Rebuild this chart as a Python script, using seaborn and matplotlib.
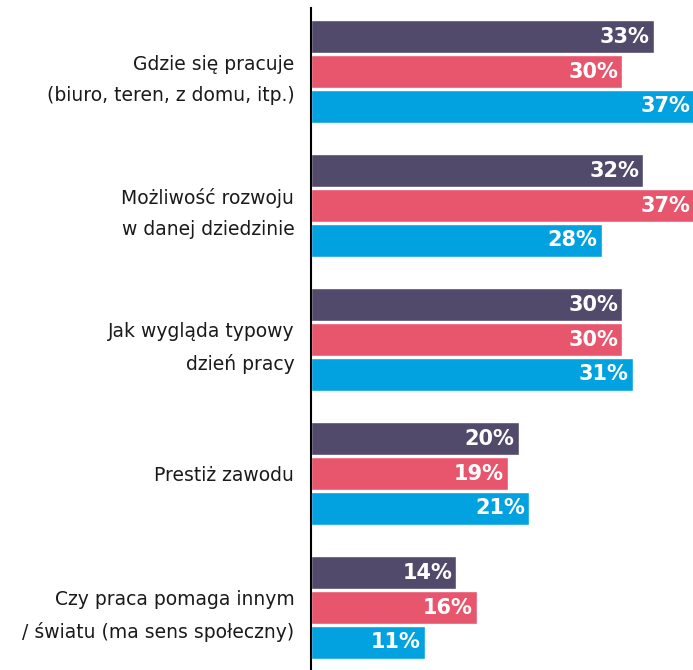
import matplotlib
matplotlib.use("Agg")
import matplotlib.pyplot as plt
import seaborn as sns
import pandas as pd

categories = [
    "Gdzie się pracuje\n(biuro, teren, z domu, itp.)",
    "Możliwość rozwoju\nw danej dziedzinie",
    "Jak wygląda typowy\ndzień pracy",
    "Prestiż zawodu",
    "Czy praca pomaga innym\n/ światu (ma sens społeczny)",
]
series = ["Grupa 1", "Grupa 2", "Grupa 3"]
values_1 = [33, 32, 30, 20, 14]
values_2 = [30, 37, 30, 19, 16]
values_3 = [37, 28, 31, 21, 11]
colors = ["#524a6a", "#e8566e", "#02a1df"]

rows = []
for name, vals in zip(series, [values_1, values_2, values_3]):
    for cat, v in zip(categories, vals):
        rows.append({"kategoria": cat, "grupa": name, "wartosc": v})
df = pd.DataFrame(rows)

sns.set_style("white")
plt.rcParams["font.family"] = ["DejaVu Sans"]

fig = plt.figure(figsize=(6.93, 6.70), dpi=100)
ax = fig.add_axes([311 / 693, 0, 1 - 311 / 693, 1 - 8 / 670])

sns.barplot(data=df, y="kategoria", x="wartosc", hue="grupa", orient="h",
            palette=colors, width=0.78, gap=0.04, legend=False, ax=ax,
            saturation=1)

for container in ax.containers:
    for bar in container:
        w = bar.get_width()
        ax.annotate(f"{w:.0f}%", (w, bar.get_y() + bar.get_height() / 2),
                    xytext=(-3, 0), textcoords="offset points",
                    ha="right", va="center", color="white",
                    fontsize=15, fontweight="bold", annotation_clip=False)

ax.set_xlim(0, 36.8)
ax.set_ylim(4.466, -0.474)
ax.set_xlabel("")
ax.set_ylabel("")
ax.set_xticks([])
ax.tick_params(axis="y", length=0, pad=12, labelsize=13.5, labelcolor="#1a1a1a")
for lab in ax.get_yticklabels():
    lab.set_horizontalalignment("right")
    lab.set_multialignment("right")
    lab.set_linespacing(1.8)
for side in ["top", "right", "bottom"]:
    ax.spines[side].set_visible(False)
ax.spines["left"].set_color("black")
ax.spines["left"].set_linewidth(1.5)

fig.savefig("out.png", dpi=100)
